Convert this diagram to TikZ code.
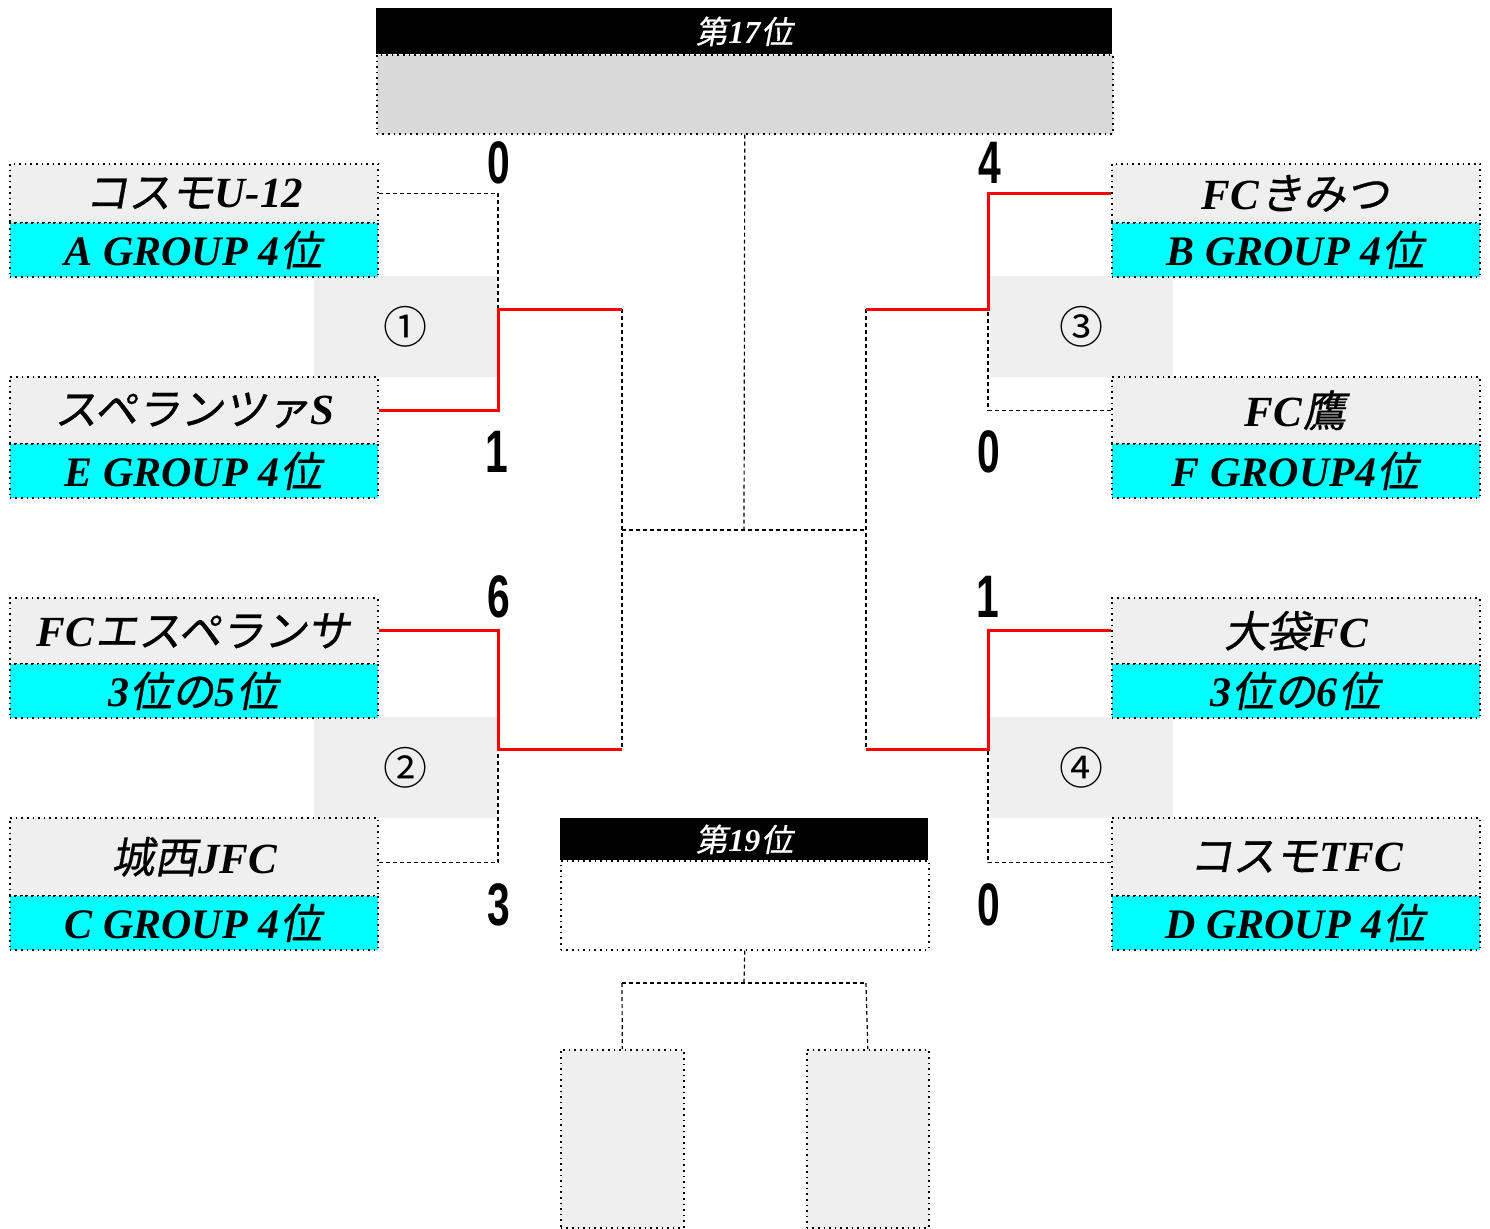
\documentclass[tikz,border=0pt]{standalone}
\usepackage{fontspec}
\setmainfont{Liberation Serif}
\newfontfamily\jpf[FakeSlant=0.18,FakeBold=0.6]{Noto Sans CJK JP}
\newfontfamily\jpn{Noto Sans CJK JP}
\newfontfamily\scoref[FakeStretch=0.68]{Liberation Sans}
\newcommand\jp[1]{\kern0.4pt{\mdseries\jpf #1}\kern0.4pt}
\definecolor{nameg}{HTML}{EFEFEF}
\definecolor{topg}{HTML}{D9D9D9}
\definecolor{grpc}{HTML}{00FFFF}
\definecolor{winred}{HTML}{FF0000}
\newcommand\teambox[7]{%
  \node[namebox, minimum height={(#4-#3)*0.5pt}] (#1n) at (#2,#3) {#6};
  \node[grpbox, minimum height={(#5-#4)*0.5pt}] (#1g) at (#2,#4) {#7};}
\begin{document}
\begin{tikzpicture}[x=0.5pt,y=-0.5pt,
  dotbox/.style={draw=black, dotted, line width=0.8pt, inner sep=0pt, anchor=north west},
  namebox/.style={dotbox, fill=nameg, minimum width=184pt, font=\bfseries\itshape\fontsize{21.5}{24}\selectfont},
  grpbox/.style={dotbox, fill=grpc, minimum width=184pt, font=\bfseries\itshape\fontsize{21}{24}\selectfont},
  matchbox/.style={fill=nameg, inner sep=0pt, anchor=north west, minimum width=91.5pt, minimum height=50.5pt, font=\jpn\fontsize{22}{24}\selectfont},
  hdr/.style={fill=black, text=white, inner sep=0pt, anchor=north west, font=\bfseries\itshape\fontsize{16}{18}\selectfont},
  score/.style={font=\scoref\bfseries\fontsize{30}{32}\selectfont, inner sep=0pt},
  link/.style={draw=black, line width=0.6pt, dash pattern=on 2pt off 1.5pt},
  win/.style={draw=winred, line width=1.5pt}]
\useasboundingbox (0,0) rectangle (1490,1228);
% match label boxes
\node[matchbox] (mb1) at (314,276) {①};
\node[matchbox] (mb2) at (314,717) {②};
\node[matchbox] (mb3) at (990,276) {③};
\node[matchbox] (mb4) at (990,717) {④};
% top: 17th place
\node[hdr, minimum width=368pt, minimum height=23pt] (h17) at (376,8) {\jp{第}17\jp{位}};
\node[dotbox, fill=topg, minimum width=368pt, minimum height=39.5pt] (top17) at (376,54) {};
% teams left
\teambox{t1}{9}{163}{222}{276}{\jp{コスモ}U-12}{A GROUP 4\jp{位}}
\teambox{t2}{9}{376}{443}{497}{\jp{スペランツァ}S}{E GROUP 4\jp{位}}
\teambox{t3}{9}{597}{663}{717}{FC\jp{エスペランサ}}{3\jp{位の}5\jp{位}}
\teambox{t4}{9}{817}{895}{949}{\jp{城西}JFC}{C GROUP 4\jp{位}}
% teams right
\teambox{t5}{1111}{163}{222}{276}{FC\jp{きみつ}}{B GROUP 4\jp{位}}
\teambox{t6}{1111}{376}{443}{497}{FC\jp{鷹}}{F GROUP4\jp{位}}
\teambox{t7}{1111}{597}{663}{717}{\jp{大袋}FC}{3\jp{位の}6\jp{位}}
\teambox{t8}{1111}{817}{895}{949}{\jp{コスモ}TFC}{D GROUP 4\jp{位}}
% 19th place
\node[hdr, minimum width=184pt, minimum height=21pt] (h19) at (560,818) {\jp{第}19\jp{位}};
\node[dotbox, fill=white, minimum width=184pt, minimum height=44.5pt] (box19) at (560,860) {};
\node[dotbox, fill=nameg, minimum width=61.5pt, minimum height=89pt] (bx1) at (560,1049) {};
\node[dotbox, fill=nameg, minimum width=61pt, minimum height=89pt] (bx2) at (806,1049) {};
% junction coordinates
\coordinate (m1) at (498,309);
\coordinate (m2) at (498,749);
\coordinate (m3) at (988,309);
\coordinate (m4) at (988,749);
\coordinate (l1) at (622,309);
\coordinate (l2) at (622,749);
\coordinate (r1) at (866,309);
\coordinate (r2) at (866,749);
\coordinate (cl) at (622,530);
\coordinate (cr) at (866,530);
\coordinate (cc) at (744,530);
\coordinate (bj) at (744,983);
\coordinate (bl) at (622,983);
\coordinate (br) at (866,983);
% dotted links
\draw[link] (t1n.east) -| (m1);
\draw[link] ([yshift=-3pt]t4n.east) -| (m2);
\draw[link] (t6n.west) -| (m3);
\draw[link] ([yshift=-3pt]t8n.west) -| (m4);
\draw[link] (l1) -- (l2);
\draw[link] (r1) -- (r2);
\draw[link] (cl) -- (cr);
\draw[link] (top17.south) -- (cc);
\draw[link] (box19.south) -- (bj);
\draw[link] (bl) -- (br);
\draw[link] (bl) -- (bx1.north);
\draw[link] (br) -- (bx2.north);
% winners
\draw[win] (t2n.east) -| (m1) -- (l1);
\draw[win] (t3n.east) -| (m2) -- (l2);
\draw[win] (t5n.west) -| (m3) -- (r1);
\draw[win] (t7n.west) -| (m4) -- (r2);
% scores
\node[score] (s1) at (499,163) {0};
\node[score] (s2) at (497,452) {1};
\node[score] (s3) at (499,597) {6};
\node[score] (s4) at (499,905) {3};
\node[score] (s5) at (990,163) {4};
\node[score] (s6) at (989,452) {0};
\node[score] (s7) at (988,597) {1};
\node[score] (s8) at (989,905) {0};
\end{tikzpicture}
\end{document}
